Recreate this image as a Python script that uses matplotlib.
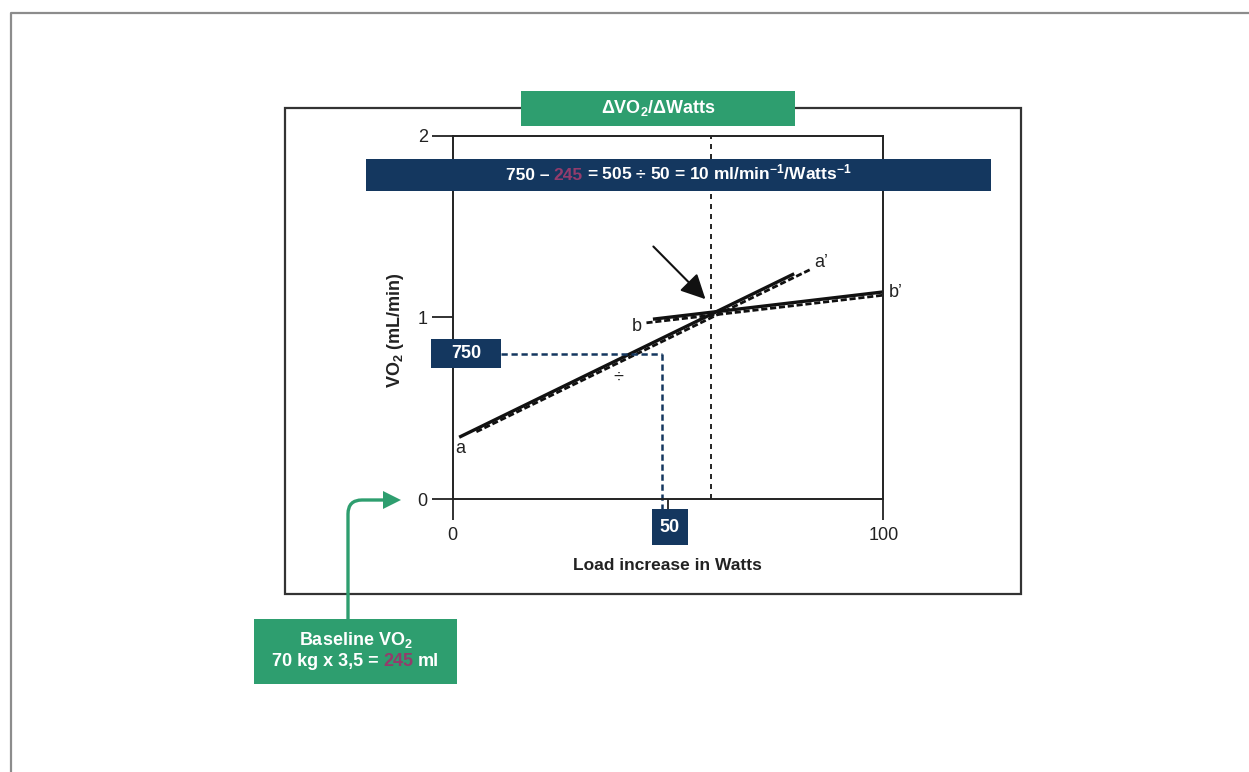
import matplotlib
matplotlib.use('Agg')
import matplotlib.pyplot as plt
from matplotlib import font_manager
from matplotlib.patches import Rectangle, Polygon, PathPatch
from matplotlib.path import Path

# 데이터
load_a = [1.5, 79.3]
vo2_a = [0.34, 1.24]
load_a_fit = [5.5, 83.2]
vo2_a_fit = [0.37, 1.265]
load_b = [46.5, 100]
vo2_b = [0.99, 1.14]
load_b_fit = [45, 100]
vo2_b_fit = [0.97, 1.122]
threshold_load = 60
read_load = 48.5
read_vo2 = 0.80
arrow_from = (46.6, 1.39)
arrow_to = (58.7, 1.10)
x_ticks = [0, 50, 100]
x_ticklabels = ['0', '', '100']
y_ticks = [0, 1, 2]
line_labels = ['a', 'b', 'a’', 'b’', '÷']
label_pos = [(1.7, 0.28), (42.8, 0.95), (85.5, 1.30), (103, 1.135), (38.4, 0.67)]

GREEN = '#2e9e6f'
NAVY = '#14375f'
PURPLE = '#943c6c'

names = {f.name for f in font_manager.fontManager.ttflist}
fam = 'Liberation Sans Narrow' if 'Liberation Sans Narrow' in names else 'Liberation Sans'
plt.rcParams['font.family'] = [fam, 'DejaVu Sans']
plt.rcParams['mathtext.fontset'] = 'custom'
plt.rcParams['mathtext.rm'] = fam
plt.rcParams['mathtext.bf'] = fam + ':bold'
plt.rcParams['mathtext.it'] = fam + ':italic'

fig = plt.figure(figsize=(12.49, 7.72), dpi=100)

# 메인 축 (픽셀 위치 기준)
W, H = 1249, 772
x0, x1, y0, y1 = 452.7, 883.3, 499, 135.7
ax = fig.add_axes([x0 / W, 1 - y0 / H, (x1 - x0) / W, (y0 - y1) / H], zorder=1)
ax.set_xlim(0, 100)
ax.set_ylim(0, 2)
for s in ax.spines.values():
    s.set_linewidth(1.4)
    s.set_color('#222222')
ax.set_xticks(x_ticks)
ax.set_xticklabels(x_ticklabels)
ax.set_yticks(y_ticks)
ax.tick_params(axis='both', direction='out', length=15, width=1.3, color='#222222',
               labelsize=13, labelcolor='#222222')
ax.tick_params(axis='x', pad=5)
ax.tick_params(axis='y', pad=3)

ax.axvline(threshold_load, color='k', lw=1.2, dashes=(3, 3))
ax.plot(load_a, vo2_a, color='#111111', lw=2.4, solid_capstyle='butt', clip_on=False)
ax.plot(load_a_fit, vo2_a_fit, color='#111111', lw=2.0, dashes=(2.2, 1.0), clip_on=False)
ax.plot(load_b, vo2_b, color='#111111', lw=2.4, solid_capstyle='butt', clip_on=False)
ax.plot(load_b_fit, vo2_b_fit, color='#111111', lw=2.0, dashes=(2.2, 1.0), clip_on=False)
ax.plot([-5, read_load], [read_vo2, read_vo2], color=NAVY, lw=1.8, dashes=(2.5, 1.5), clip_on=False)
ax.plot([read_load, read_load], [read_vo2, -0.07], color=NAVY, lw=1.8, dashes=(2.5, 1.5), clip_on=False)
ax.annotate('', xy=arrow_to, xytext=arrow_from,
            arrowprops=dict(arrowstyle='-|>,head_length=0.6,head_width=0.3',
                            color='#111111', lw=1.5, mutation_scale=25, shrinkA=0, shrinkB=0))
for t, (lx, ly) in zip(line_labels, label_pos):
    ax.text(lx, ly, t, fontsize=13, color='#222222', ha='center', va='center', clip_on=False)

# 오버레이 (픽셀 좌표)
ov = fig.add_axes([0, 0, 1, 1], zorder=2)
ov.set_xlim(0, W)
ov.set_ylim(H, 0)
ov.axis('off')
ov.patch.set_visible(False)

ov.plot([11, 11, W], [H, 13, 13], color='#8c8c8c', lw=1.6)
ov.add_patch(Rectangle((285, 108), 736, 486, fill=False, ec='#333333', lw=1.6))

ov.add_patch(Rectangle((521, 91), 274, 35, fc=GREEN, ec='none'))
ov.text(658, 108, r'ΔVO$_\mathbf{2}$/ΔWatts', color='white', fontsize=13,
        fontweight='bold', ha='center', va='center')

ov.add_patch(Rectangle((366, 159), 625, 32, fc=NAVY, ec='none'))
ov.add_patch(Rectangle((431, 339), 70, 29, fc=NAVY, ec='none'))
ov.text(466, 354, '750', color='white', fontsize=13, fontweight='bold', ha='center', va='center')
ov.add_patch(Rectangle((652, 509), 36, 36, fc=NAVY, ec='none'))
ov.text(670, 528, '50', color='white', fontsize=13, fontweight='bold', ha='center', va='center')

ov.text(396, 330, r'VO$_\mathbf{2}$ (mL/min)', rotation=90, color='#222222', fontsize=13,
        fontweight='bold', ha='center', va='center')
ov.text(667, 566, 'Load increase in Watts', color='#222222', fontsize=12.5,
        fontweight='bold', ha='center', va='center')

ov.add_patch(Rectangle((254, 619), 203, 65, fc=GREEN, ec='none'))
ov.text(355.5, 640, r'Baseline VO$_\mathbf{2}$', color='white', fontsize=13,
        fontweight='bold', ha='center', va='center')

# 초록 화살표
p = Path([(348, 619), (348, 514), (348, 500), (362, 500), (384, 500)],
         [Path.MOVETO, Path.LINETO, Path.CURVE3, Path.CURVE3, Path.LINETO])
ov.add_patch(PathPatch(p, fill=False, ec=GREEN, lw=2.4))
ov.add_patch(Polygon([(383, 491), (401, 500), (383, 509)], closed=True, fc=GREEN, ec='none'))


def multicolor(xc, y, parts, gap=3.0, size=13):
    texts = []
    first = ov.text(xc, y, parts[0][0], color=parts[0][1], fontsize=size,
                    fontweight='bold', ha='left', va='center')
    texts.append(first)
    for s, c in parts[1:]:
        t = ov.annotate(s, xy=(1, 0), xycoords=texts[-1], xytext=(gap, 0),
                        textcoords='offset points', color=c, fontsize=size,
                        fontweight='bold', ha='left', va='bottom')
        texts.append(t)
    fig.canvas.draw()
    r = fig.canvas.get_renderer()
    ext = [t.get_window_extent(r) for t in texts]
    width = ext[-1].x1 - ext[0].x0
    first.set_x(xc - width / 2)


multicolor(678.5, 175, [('750 –', 'white'), ('245', PURPLE),
                        (r'= 505 ÷ 50 = 10 ml/min$^{\mathbf{-1}}$/Watts$^{\mathbf{-1}}$', 'white')],
           size=12.5)
multicolor(355.5, 662, [('70 kg x 3,5 =', 'white'), ('245', PURPLE), ('ml', 'white')])

fig.savefig('out.png', dpi=100)
